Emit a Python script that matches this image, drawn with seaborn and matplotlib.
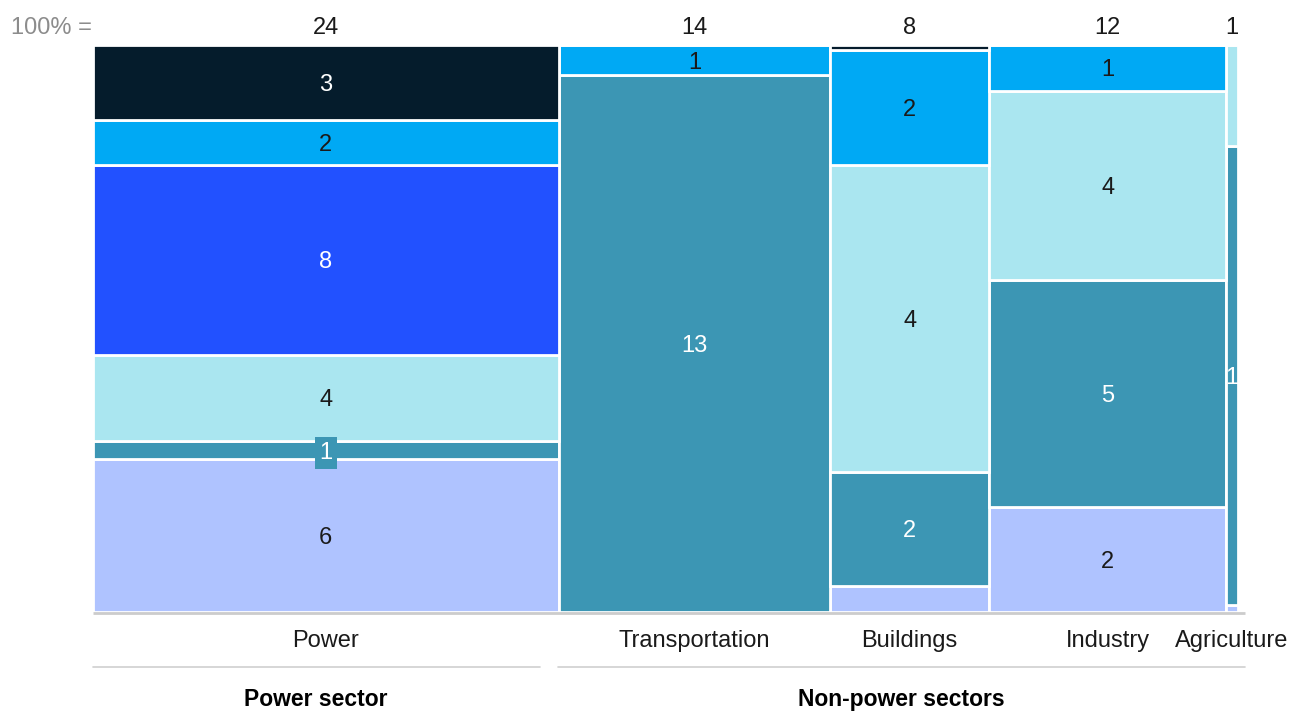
import numpy as np
import pandas as pd
import matplotlib
matplotlib.use("Agg")
import matplotlib.pyplot as plt
import seaborn as sns

# ---------------- data ----------------
categories = ["Power", "Transportation", "Buildings", "Industry", "Agriculture"]
column_widths = [24.0, 14.0, 8.2, 12.2, 0.62]          # relative column widths
column_labels = ["24", "14", "8", "12", "1"]            # "100% =" totals

segments = ["navy", "bright", "royal", "cyan", "teal", "peri"]  # top -> bottom
seg_colors = {"navy": "#051c2c", "bright": "#00a9f4", "royal": "#2251ff",
              "cyan": "#aae6f0", "teal": "#3c96b4", "peri": "#afc3ff"}
text_white = {"navy": True, "bright": False, "royal": True,
              "cyan": False, "teal": True, "peri": False}

# shares (%) within each column, order follows `segments`
power_vals = [13.2, 7.9, 33.5, 15.3, 3.2, 26.9]
transport_vals = [0.0, 5.3, 0.0, 0.0, 94.7, 0.0]
buildings_vals = [0.9, 20.3, 0.0, 54.1, 20.1, 4.6]
industry_vals = [0.0, 8.1, 0.0, 33.3, 40.0, 18.6]
agriculture_vals = [0.0, 0.0, 0.0, 17.8, 81.0, 1.2]

power_labels = ["3", "2", "8", "4", "1", "6"]
transport_labels = ["", "1", "", "", "13", ""]
buildings_labels = ["", "2", "", "4", "2", ""]
industry_labels = ["", "1", "", "4", "5", "2"]
agriculture_labels = ["", "", "", "", "1", ""]

all_vals = [power_vals, transport_vals, buildings_vals, industry_vals, agriculture_vals]
all_labels = [power_labels, transport_labels, buildings_labels, industry_labels, agriculture_labels]

# ---------------- build long table ----------------
edges = np.concatenate([[0], np.cumsum(column_widths)])
centers = (edges[:-1] + edges[1:]) / 2
rows = []
for ci, cat in enumerate(categories):
    for si, seg in enumerate(segments):
        rows.append({"x": centers[ci], "segment": seg, "value": all_vals[ci][si]})
df = pd.DataFrame(rows)

# ---------------- plot ----------------
sns.set_theme(style="white")
plt.rcParams["font.family"] = ["Liberation Sans", "DejaVu Sans"]

fig = plt.figure(figsize=(13.01, 7.11), dpi=100)
L, R, T, B = 93, 1238, 45, 612
W, H = 1301, 711
ax = fig.add_axes([L / W, 1 - B / H, (R - L) / W, (B - T) / H])

sns.histplot(data=df, x="x", weights="value", hue="segment", hue_order=segments,
             bins=[float(e) for e in edges], multiple="fill", palette=seg_colors, alpha=1,
             edgecolor="white", linewidth=2, legend=False, ax=ax)

ax.set_xlim(edges[0], edges[-1])
ax.set_ylim(0, 1)
ax.set_xlabel("")
ax.set_ylabel("")
ax.set_xticks([])
ax.set_yticks([])
for s in ax.spines.values():
    s.set_visible(False)

fs = 17
dark = "#1a1a1a"
va = "center_baseline"
# segment labels
for ci in range(len(categories)):
    vals = np.array(all_vals[ci], dtype=float)
    fr = vals / vals.sum()
    top = 1.0
    for si, seg in enumerate(segments):
        h = fr[si]
        mid = top - h / 2
        lab = all_labels[ci][si]
        if lab:
            col = "white" if text_white[seg] else dark
            kw = {}
            if h < 0.05 and seg == "teal" and ci == 0:
                kw["bbox"] = dict(boxstyle="square,pad=0.2", fc=seg_colors[seg], ec="none")
            ax.text(centers[ci], mid, lab, ha="center", va=va, fontsize=fs,
                    color=col, **kw)
        top -= h

# column totals on top
py = lambda p: 1 - (p - T) / (B - T)   # pixel y -> axes fraction
px = lambda p: (p - L) / (R - L)       # pixel x -> axes fraction
for ci in range(len(categories)):
    ax.text(centers[ci], py(25), column_labels[ci], ha="center", va=va,
            fontsize=fs, color=dark, clip_on=False)
ax.text(px(92), py(25), "100% =", transform=ax.transAxes, ha="right", va=va,
        fontsize=fs, color="#8c8c8c", clip_on=False)

# category labels
for ci, cat in enumerate(categories):
    ax.text(centers[ci], py(638), cat, ha="center", va=va, fontsize=fs,
            color=dark, clip_on=False)

# baseline and group lines
ax.plot([px(93), px(1245)], [py(612.5), py(612.5)], transform=ax.transAxes,
        color="#cccccc", lw=2, clip_on=False, solid_capstyle="butt")
ax.plot([px(93), px(540)], [py(667), py(667)], transform=ax.transAxes,
        color="#d0d0d0", lw=1.2, clip_on=False)
ax.plot([px(558), px(1245)], [py(667), py(667)], transform=ax.transAxes,
        color="#d0d0d0", lw=1.2, clip_on=False)
ax.text(px(316), py(697), "Power sector", transform=ax.transAxes, ha="center",
        va=va, fontsize=16.5, fontweight="bold", color="#000000", clip_on=False)
ax.text(px(901), py(697), "Non-power sectors", transform=ax.transAxes, ha="center",
        va=va, fontsize=16.5, fontweight="bold", color="#000000", clip_on=False)

fig.savefig("out.png", dpi=100, facecolor="white")
